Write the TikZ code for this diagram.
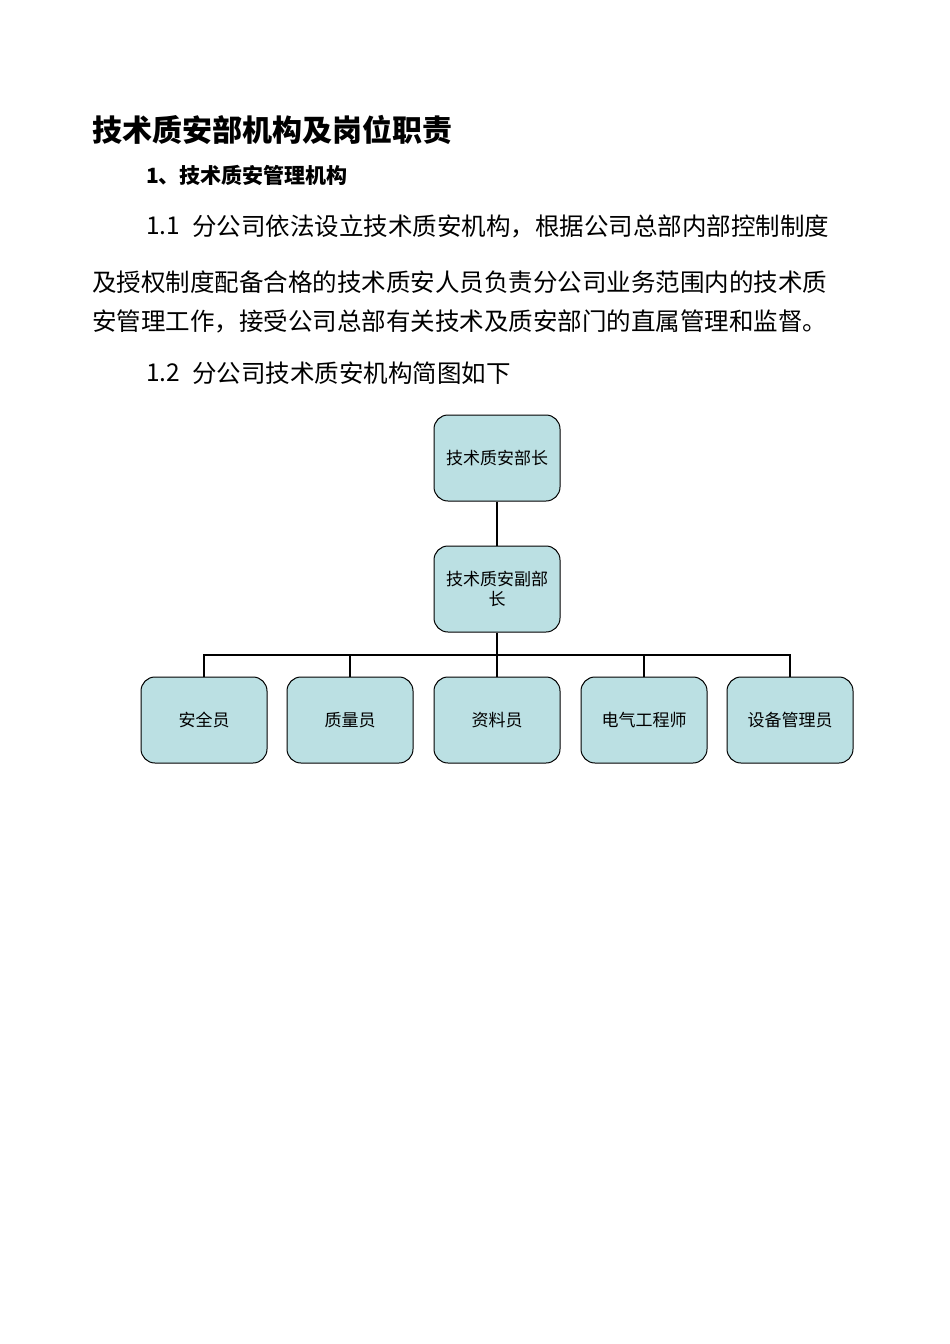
\documentclass[tikz,border=0pt]{standalone}
\usepackage{fontspec}
\setmainfont{Noto Sans CJK SC}
\newfontfamily\boldcjk{Noto Sans CJK SC Bold}
\begin{document}
\begin{tikzpicture}[x=1pt,y=-1pt,
  box/.style={draw=black,line width=1pt,fill=boxfill,rounded corners=14pt,minimum width=126pt,minimum height=86pt,inner sep=2pt,align=center,font=\fontsize{17}{20}\selectfont,text width=120pt},
  txt/.style={anchor=west,inner sep=0pt,font=\fontsize{24.5}{28}\selectfont},
  conn/.style={line width=2.5pt}]
\definecolor{boxfill}{HTML}{BBE0E3}
\useasboundingbox (0,0) rectangle (950,1344);
\node[anchor=west,inner sep=0pt,font=\fontsize{30}{34}\selectfont\bfseries] (title) at (92,130) {技术质安部机构及岗位职责};
\node[anchor=west,inner sep=0pt,font=\fontsize{21}{24}\selectfont\bfseries] (h1) at (146,175) {1、技术质安管理机构};
\node[txt] (n11) at (146,226) {1.1};
\node[txt] (l1) at (192,226) {分公司依法设立技术质安机构，根据公司总部内部控制制度};
\node[txt] (l2) at (92,282) {及授权制度配备合格的技术质安人员负责分公司业务范围内的技术质};
\node[txt] (l3) at (92,321) {安管理工作，接受公司总部有关技术及质安部门的直属管理和监督。};
\node[txt] (n12) at (146,373) {1.2};
\node[txt] (l4) at (192,373) {分公司技术质安机构简图如下};
\node[box] (a) at (497,458) {技术质安部长};
\node[box] (b) at (497,589) {技术质安副部\\长};
\node[box] (c1) at (204,720) {安全员};
\node[box] (c2) at (350,720) {质量员};
\node[box] (c3) at (497,720) {资料员};
\node[box] (c4) at (644,720) {电气工程师};
\node[box] (c5) at (790,720) {设备管理员};
\coordinate (bus) at (497,655);
\draw[conn] (a) -- (b);
\draw[conn] (b) -- (bus);
\foreach \c in {c1,c2,c3,c4,c5} \draw[conn] (bus) -| (\c.north);
\end{tikzpicture}
\end{document}
